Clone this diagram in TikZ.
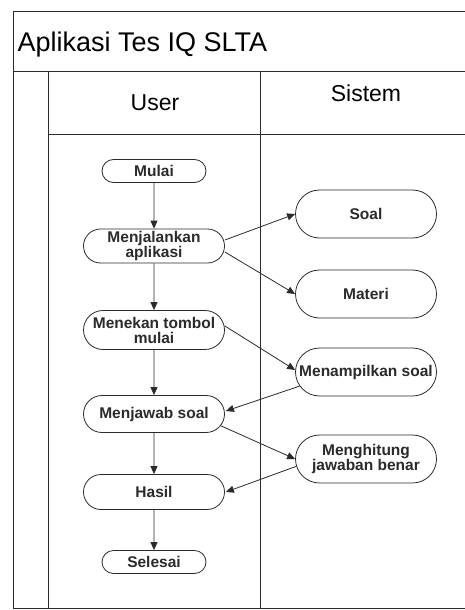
\documentclass[tikz,border=0pt]{standalone}
\usepackage{fontspec}
\setmainfont{Liberation Sans}
\usetikzlibrary{shapes.misc,arrows.meta}
\definecolor{ink}{HTML}{2A2A2A}
\begin{document}
\begin{tikzpicture}[x=1pt,y=-1pt,
  lane/.style={draw=ink,line width=0.9pt},
  act/.style={draw=ink,line width=0.8pt,rounded rectangle,inner sep=1pt,
    align=center,font=\fontsize{15.5}{15}\selectfont\bfseries,text=ink},
  usr/.style={act,minimum width=143pt,minimum height=36pt},
  tiny/.style={act,minimum width=106pt,minimum height=23pt},
  sys/.style={act,minimum width=143pt,minimum height=48pt},
  flow/.style={draw=ink,line width=0.8pt,-{Triangle[length=8pt,width=7pt]}}]
\useasboundingbox (0,0) rectangle (465,610);
% swimlane frame
\draw[lane] (465,11) -- (13,11) -- (13,608) -- (465,608);
\draw[lane] (13,71) -- (465,71);
\draw[lane] (48,71) -- (48,608);
\draw[lane] (260,71) -- (260,608);
\draw[lane] (48,134) -- (465,134);
\node[anchor=base west,font=\fontsize{27}{30}\selectfont] (title) at (14,52) {Aplikasi Tes IQ SLTA};
\node[font=\fontsize{23}{26}\selectfont] (user) at (155,103) {User};
\node[font=\fontsize{23}{26}\selectfont] (sistem) at (366,93) {Sistem};
% user lane
\node[tiny] (mulai) at (154,171) {Mulai};
\node[usr,minimum height=34pt] (menj) at (154,246) {Menjalankan\\aplikasi};
\node[usr,minimum height=39pt] (tekan) at (154,330) {Menekan tombol\\mulai};
\node[usr,minimum height=37pt] (jawab) at (154,414) {Menjawab soal};
\node[usr,minimum height=35pt] (hasil) at (154,492) {Hasil};
\node[tiny] (selesai) at (154,562) {Selesai};
% system lane
\node[sys] (soal) at (366,214) {Soal};
\node[sys] (materi) at (366,294) {Materi};
\node[sys] (tampil) at (366,372) {Menampilkan soal};
\node[sys] (hitung) at (366,459) {Menghitung\\jawaban benar};
% control flow
\draw[flow] (mulai) -- (menj);
\draw[flow] (menj) -- (tekan);
\draw[flow] (tekan) -- (jawab);
\draw[flow] (jawab) -- (hasil);
\draw[flow] (hasil) -- (selesai);
\draw[flow] ([yshift=6pt]menj.east) -- (soal.west);
\draw[flow] ([yshift=-6pt]menj.east) -- (materi.west);
\draw[flow] ([yshift=4pt]tekan.east) -- ([yshift=2pt]tampil.west);
\draw[flow] (tampil.192) -- ([yshift=3pt,xshift=1pt]jawab.east);
\draw[flow] (jawab.-10) -- (hitung.west);
\draw[flow] (hitung.186) -- ([xshift=1pt]hasil.east);
\end{tikzpicture}
\end{document}
